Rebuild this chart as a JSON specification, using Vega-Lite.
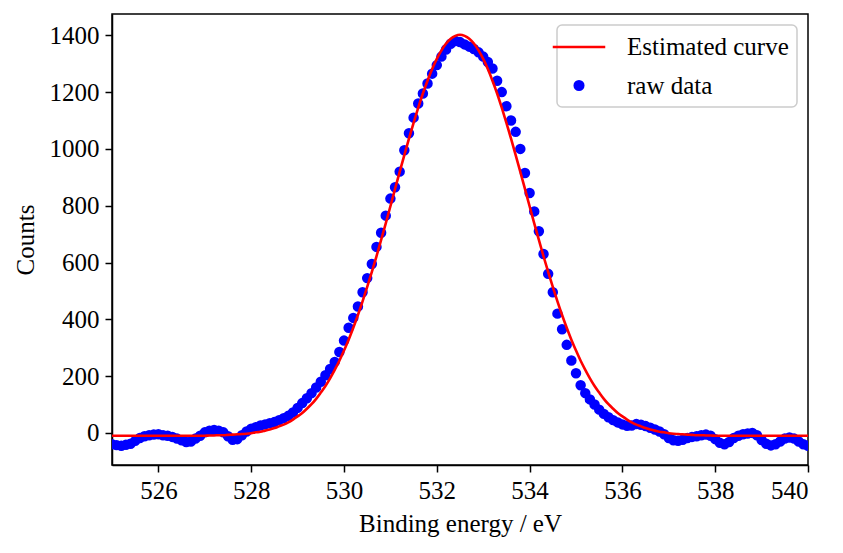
{
  "$schema": "https://vega.github.io/schema/vega-lite/v6.json",
  "width": 696,
  "height": 451,
  "autosize": {"type": "none"},
  "padding": {"left": 112, "top": 14, "right": 35, "bottom": 88},
  "background": "white",
  "config": {
    "font": "Liberation Serif",
    "view": {"stroke": "black", "strokeWidth": 1.5},
    "axis": {
      "grid": false, "domainColor": "black", "domainWidth": 1.5,
      "tickColor": "black", "tickWidth": 1.5, "tickSize": 7,
      "labelFont": "Liberation Serif", "labelFontSize": 25, "labelColor": "black",
      "titleFont": "Liberation Serif", "titleFontSize": 25, "titleFontWeight": "normal", "titleColor": "black",
      "labelPadding": 6
    },
    "legend": {
      "orient": "top-right", "offset": 11,
      "strokeWidth": 1.5, "labelFont": "Liberation Serif", "labelFontSize": 25, "labelColor": "black",
      "labelOffset": 34, "labelLimit": 400, "rowPadding": 13, "padding": 8, "cornerRadius": 5,
      "strokeColor": "#cccccc", "fillColor": "white", "symbolStrokeWidth": 2.6, "symbolOpacity": 1
    }
  },
  "datasets": {
    "raw": [
      {"energy":525.0,"counts":-40},{"energy":525.1,"counts":-43},{"energy":525.2,"counts":-45},{"energy":525.3,"counts":-42},{"energy":525.4,"counts":-38},
      {"energy":525.5,"counts":-28},{"energy":525.6,"counts":-18},{"energy":525.7,"counts":-12},{"energy":525.8,"counts":-8},{"energy":525.9,"counts":-6},
      {"energy":526.0,"counts":-5},{"energy":526.1,"counts":-8},{"energy":526.2,"counts":-10},{"energy":526.3,"counts":-14},{"energy":526.4,"counts":-20},
      {"energy":526.5,"counts":-26},{"energy":526.6,"counts":-32},{"energy":526.7,"counts":-30},{"energy":526.8,"counts":-20},{"energy":526.9,"counts":-10},
      {"energy":527.0,"counts":2},{"energy":527.1,"counts":8},{"energy":527.2,"counts":10},{"energy":527.3,"counts":8},{"energy":527.4,"counts":2},
      {"energy":527.5,"counts":-12},{"energy":527.6,"counts":-24},{"energy":527.7,"counts":-22},{"energy":527.8,"counts":-8},{"energy":527.9,"counts":5},
      {"energy":528.0,"counts":15},{"energy":528.1,"counts":20},{"energy":528.2,"counts":26},{"energy":528.3,"counts":30},{"energy":528.4,"counts":34},
      {"energy":528.5,"counts":38},{"energy":528.6,"counts":45},{"energy":528.7,"counts":52},{"energy":528.8,"counts":60},{"energy":528.9,"counts":72},
      {"energy":529.0,"counts":88},{"energy":529.1,"counts":105},{"energy":529.2,"counts":122},{"energy":529.3,"counts":140},{"energy":529.4,"counts":160},
      {"energy":529.5,"counts":180},{"energy":529.6,"counts":203},{"energy":529.7,"counts":225},{"energy":529.8,"counts":250},{"energy":529.9,"counts":285},
      {"energy":530.0,"counts":325},{"energy":530.1,"counts":370},{"energy":530.2,"counts":405},{"energy":530.3,"counts":445},{"energy":530.4,"counts":495},
      {"energy":530.5,"counts":545},{"energy":530.6,"counts":595},{"energy":530.7,"counts":655},{"energy":530.8,"counts":705},{"energy":530.9,"counts":765},
      {"energy":531.0,"counts":825},{"energy":531.1,"counts":865},{"energy":531.2,"counts":920},{"energy":531.3,"counts":995},{"energy":531.4,"counts":1055},
      {"energy":531.5,"counts":1110},{"energy":531.6,"counts":1160},{"energy":531.7,"counts":1195},{"energy":531.8,"counts":1230},{"energy":531.9,"counts":1265},
      {"energy":532.0,"counts":1295},{"energy":532.1,"counts":1325},{"energy":532.2,"counts":1350},{"energy":532.3,"counts":1370},{"energy":532.4,"counts":1380},
      {"energy":532.5,"counts":1376},{"energy":532.6,"counts":1368},{"energy":532.7,"counts":1360},{"energy":532.8,"counts":1352},{"energy":532.9,"counts":1340},
      {"energy":533.0,"counts":1325},{"energy":533.1,"counts":1306},{"energy":533.2,"counts":1283},{"energy":533.3,"counts":1240},{"energy":533.4,"counts":1200},
      {"energy":533.5,"counts":1150},{"energy":533.6,"counts":1100},{"energy":533.7,"counts":1060},{"energy":533.8,"counts":1000},{"energy":533.9,"counts":915},
      {"energy":534.0,"counts":845},{"energy":534.1,"counts":780},{"energy":534.2,"counts":710},{"energy":534.3,"counts":630},{"energy":534.4,"counts":560},
      {"energy":534.5,"counts":495},{"energy":534.6,"counts":420},{"energy":534.7,"counts":365},{"energy":534.8,"counts":310},{"energy":534.9,"counts":255},
      {"energy":535.0,"counts":210},{"energy":535.1,"counts":168},{"energy":535.2,"counts":140},{"energy":535.3,"counts":118},{"energy":535.4,"counts":100},
      {"energy":535.5,"counts":82},{"energy":535.6,"counts":67},{"energy":535.7,"counts":55},{"energy":535.8,"counts":45},{"energy":535.9,"counts":37},
      {"energy":536.0,"counts":30},{"energy":536.1,"counts":25},{"energy":536.2,"counts":26},{"energy":536.3,"counts":31},{"energy":536.4,"counts":29},
      {"energy":536.5,"counts":24},{"energy":536.6,"counts":18},{"energy":536.7,"counts":12},{"energy":536.8,"counts":5},{"energy":536.9,"counts":-5},
      {"energy":537.0,"counts":-18},{"energy":537.1,"counts":-26},{"energy":537.2,"counts":-28},{"energy":537.3,"counts":-24},{"energy":537.4,"counts":-18},
      {"energy":537.5,"counts":-14},{"energy":537.6,"counts":-12},{"energy":537.7,"counts":-8},{"energy":537.8,"counts":-6},{"energy":537.9,"counts":-10},
      {"energy":538.0,"counts":-22},{"energy":538.1,"counts":-35},{"energy":538.2,"counts":-40},{"energy":538.3,"counts":-32},{"energy":538.4,"counts":-18},
      {"energy":538.5,"counts":-10},{"energy":538.6,"counts":-5},{"energy":538.7,"counts":-2},{"energy":538.8,"counts":0},{"energy":538.9,"counts":-8},
      {"energy":539.0,"counts":-25},{"energy":539.1,"counts":-38},{"energy":539.2,"counts":-44},{"energy":539.3,"counts":-40},{"energy":539.4,"counts":-30},
      {"energy":539.5,"counts":-20},{"energy":539.6,"counts":-16},{"energy":539.7,"counts":-20},{"energy":539.8,"counts":-30},{"energy":539.9,"counts":-40},
      {"energy":540.0,"counts":-45}
    ],
    "fit": [
      {"energy":525.0,"counts":-10},{"energy":526.0,"counts":-10},{"energy":527.0,"counts":-10},{"energy":527.1,"counts":-9},{"energy":527.2,"counts":-9},
      {"energy":527.3,"counts":-8},{"energy":527.4,"counts":-8},{"energy":527.5,"counts":-7},{"energy":527.6,"counts":-6},{"energy":527.7,"counts":-5},
      {"energy":527.8,"counts":-4},{"energy":527.9,"counts":-3},{"energy":528.0,"counts":-1},{"energy":528.1,"counts":2},{"energy":528.2,"counts":4},
      {"energy":528.3,"counts":8},{"energy":528.4,"counts":12},{"energy":528.5,"counts":17},{"energy":528.6,"counts":23},{"energy":528.7,"counts":29},
      {"energy":528.8,"counts":37},{"energy":528.9,"counts":47},{"energy":529.0,"counts":58},{"energy":529.1,"counts":70},{"energy":529.2,"counts":85},
      {"energy":529.3,"counts":101},{"energy":529.4,"counts":120},{"energy":529.5,"counts":142},{"energy":529.6,"counts":165},{"energy":529.7,"counts":192},
      {"energy":529.8,"counts":222},{"energy":529.9,"counts":254},{"energy":530.0,"counts":290},{"energy":530.1,"counts":328},{"energy":530.2,"counts":370},
      {"energy":530.3,"counts":415},{"energy":530.4,"counts":463},{"energy":530.5,"counts":514},{"energy":530.6,"counts":567},{"energy":530.7,"counts":622},
      {"energy":530.8,"counts":680},{"energy":530.9,"counts":738},{"energy":531.0,"counts":798},{"energy":531.1,"counts":859},{"energy":531.2,"counts":919},
      {"energy":531.3,"counts":978},{"energy":531.4,"counts":1036},{"energy":531.5,"counts":1092},{"energy":531.6,"counts":1145},{"energy":531.7,"counts":1195},
      {"energy":531.8,"counts":1240},{"energy":531.9,"counts":1281},{"energy":532.0,"counts":1317},{"energy":532.1,"counts":1347},{"energy":532.2,"counts":1371},
      {"energy":532.3,"counts":1388},{"energy":532.4,"counts":1398},{"energy":532.5,"counts":1402},{"energy":532.6,"counts":1398},{"energy":532.7,"counts":1388},
      {"energy":532.8,"counts":1371},{"energy":532.9,"counts":1347},{"energy":533.0,"counts":1317},{"energy":533.1,"counts":1281},{"energy":533.2,"counts":1240},
      {"energy":533.3,"counts":1195},{"energy":533.4,"counts":1145},{"energy":533.5,"counts":1092},{"energy":533.6,"counts":1036},{"energy":533.7,"counts":978},
      {"energy":533.8,"counts":919},{"energy":533.9,"counts":859},{"energy":534.0,"counts":798},{"energy":534.1,"counts":738},{"energy":534.2,"counts":680},
      {"energy":534.3,"counts":622},{"energy":534.4,"counts":567},{"energy":534.5,"counts":514},{"energy":534.6,"counts":463},{"energy":534.7,"counts":415},
      {"energy":534.8,"counts":370},{"energy":534.9,"counts":328},{"energy":535.0,"counts":290},{"energy":535.1,"counts":254},{"energy":535.2,"counts":222},
      {"energy":535.3,"counts":192},{"energy":535.4,"counts":165},{"energy":535.5,"counts":142},{"energy":535.6,"counts":120},{"energy":535.7,"counts":101},
      {"energy":535.8,"counts":85},{"energy":535.9,"counts":70},{"energy":536.0,"counts":58},{"energy":536.1,"counts":47},{"energy":536.2,"counts":37},
      {"energy":536.3,"counts":29},{"energy":536.4,"counts":23},{"energy":536.5,"counts":17},{"energy":536.6,"counts":12},{"energy":536.7,"counts":8},
      {"energy":536.8,"counts":4},{"energy":536.9,"counts":2},{"energy":537.0,"counts":-1},{"energy":537.1,"counts":-3},{"energy":537.2,"counts":-4},
      {"energy":537.3,"counts":-5},{"energy":537.4,"counts":-6},{"energy":537.5,"counts":-7},{"energy":537.6,"counts":-8},{"energy":537.7,"counts":-8},
      {"energy":537.8,"counts":-9},{"energy":537.9,"counts":-9},{"energy":538.0,"counts":-10},{"energy":539.0,"counts":-10},{"energy":540.0,"counts":-10}
    ]
  },
  "layer": [
    {
      "data": {"name": "raw"},
      "mark": {"type": "point", "filled": true, "fill": "#0000ff", "fillOpacity": 1, "opacity": 1, "clip": true},
      "encoding": {
        "x": {"field": "energy", "type": "quantitative",
              "scale": {"domain": [525, 540], "nice": false, "zero": false},
              "axis": {"values": [526, 528, 530, 532, 534, 536, 538, 540], "title": "Binding energy / eV", "titlePadding": 8}},
        "y": {"field": "counts", "type": "quantitative",
              "scale": {"domain": [-113, 1475], "nice": false, "zero": false},
              "axis": {"values": [0, 200, 400, 600, 800, 1000, 1200, 1400], "format": "d", "title": "Counts", "titlePadding": 11}},
        "stroke": {"datum": "raw data", "type": "nominal",
                   "scale": {"domain": ["Estimated curve", "raw data"], "range": ["#ff0000", "#0000ff"]},
                   "legend": {"title": null}},
        "shape": {"datum": "raw data", "type": "nominal",
                  "scale": {"domain": ["Estimated curve", "raw data"], "range": ["M-2.1,0H2.1", "circle"]},
                  "legend": {"title": null}},
        "size": {"datum": "raw data", "type": "nominal",
                 "scale": {"type": "ordinal", "domain": ["Estimated curve", "raw data"], "range": [625, 72]},
                 "legend": {"title": null}}
      }
    },
    {
      "data": {"name": "fit"},
      "mark": {"type": "line", "color": "#ff0000", "strokeWidth": 2.6, "clip": true, "interpolate": "monotone"},
      "encoding": {
        "x": {"field": "energy", "type": "quantitative"},
        "y": {"field": "counts", "type": "quantitative"}
      }
    }
  ]
}
